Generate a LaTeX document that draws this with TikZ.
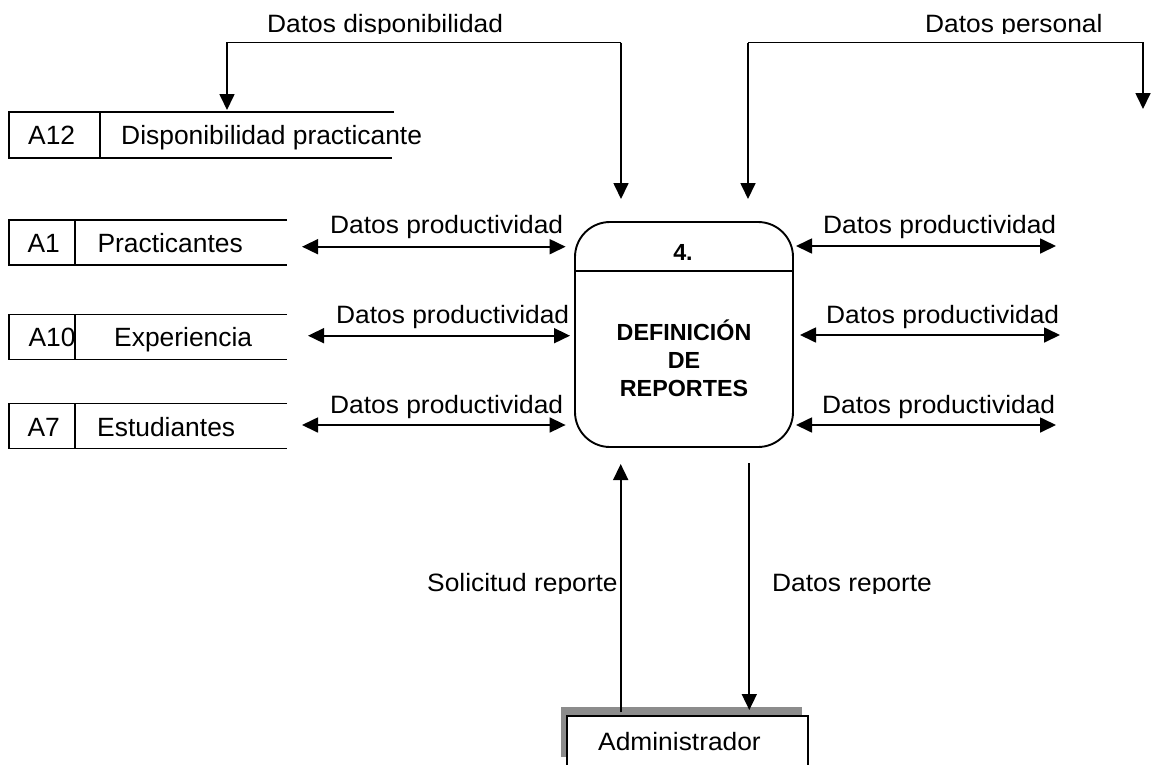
\documentclass[tikz,border=0pt]{standalone}
\usepackage{fontspec}
\setmainfont{Liberation Sans}
\newfontfamily\flowfont{Liberation Sans}[FakeStretch=1.05]
\definecolor{shadowgray}{RGB}{140,140,140}
\usetikzlibrary{arrows.meta}
\begin{document}
\begin{tikzpicture}[x=1pt,y=-1pt,
  line/.style={line width=1.7pt},
  tip/.tip={Triangle[width=15pt,length=16pt]},
  flow/.style={line width=1.7pt,-tip},
  bflow/.style={line width=1.7pt,tip-tip},
  storetxt/.style={font=\fontsize{26.4}{30}\selectfont, inner sep=0pt, anchor=base west},
  flowtxt/.style={font=\flowfont\fontsize{25.1}{28}\selectfont, inner sep=0pt, anchor=base west},
  boldtxt/.style={font=\bfseries\fontsize{23.3}{28.5}\selectfont, inner sep=0pt, anchor=base},
  procbox/.style={draw, line width=1.9pt, rounded corners=35pt, minimum width=218pt, minimum height=225pt, inner sep=0pt},
  entbox/.style={draw, line width=1.7pt, fill=white, minimum width=241pt, minimum height=60pt, inner sep=0pt},
]
\useasboundingbox (0,0) rectangle (1153,764);

% ---------- process ----------
\node[procbox] (P) at (684,334.5) {};
\draw[line] ([yshift=-50pt]P.north west) -- ([yshift=-50pt]P.north east);
\node[boldtxt] (pnum) at (683,260) {4.};
\node[boldtxt] (pt1) at (684,340) {DEFINICIÓN};
\node[boldtxt] (pt2) at (684,368) {DE};
\node[boldtxt] (pt3) at (684,396.5) {REPORTES};

% ---------- data stores ----------
\draw[line] (394,112) -- (9,112) -- (9,158) -- (392,158);
\draw[line] (100,112) -- (100,158);
\node[storetxt] (a12id) at (28,144.3) {A12};
\node[storetxt] (a12) at (121,144.3) {Disponibilidad practicante};

\draw[line] (287,220) -- (9,220) -- (9,265) -- (287,265);
\draw[line] (75,220) -- (75,265);
\node[storetxt] (a1id) at (27.3,252.3) {A1};
\node[storetxt] (a1) at (97.3,252.3) {Practicantes};

\draw[line] (287,314.5) -- (9,314.5) -- (9,359.5) -- (287,359.5);
\draw[line] (75,314.5) -- (75,359.5);
\node[storetxt] (a10id) at (28.3,346.7) {A10};
\node[storetxt] (a10) at (114,346.7) {Experiencia};

\draw[line] (287,403.5) -- (9,403.5) -- (9,448.5) -- (287,448.5);
\draw[line] (75,403.5) -- (75,448.5);
\node[storetxt] (a7id) at (27.3,436.7) {A7};
\node[storetxt] (a7) at (97,436.7) {Estudiantes};

% ---------- external entity ----------
\fill[shadowgray] (561,707) rectangle (802,757);
\node[entbox, anchor=north west] (adm) at (566,715) {};
\node[flowtxt] (admt) at (598,750.7) {Administrador};

% ---------- coordinates ----------
\coordinate (dA) at (621,42.5);
\coordinate (dB) at (227,42.5);
\coordinate (dT) at (227,110);
\coordinate (dP) at (621,199);
\coordinate (pA) at (748,42.5);
\coordinate (pB) at (1143,42.5);
\coordinate (pT) at (1143,109);
\coordinate (pP) at (748,199);

\coordinate (l1a) at (302,246.7);  \coordinate (l1b) at (565.6,246.7);
\coordinate (l2a) at (308,335.7);  \coordinate (l2b) at (570,335.7);
\coordinate (l3a) at (302,425);    \coordinate (l3b) at (565.6,425);
\coordinate (r1a) at (796,246);    \coordinate (r1b) at (1056,246);
\coordinate (r2a) at (800,335);    \coordinate (r2b) at (1060,335);
\coordinate (r3a) at (796,425);    \coordinate (r3b) at (1056,425);

\coordinate (uS) at (620.7,712);   \coordinate (uT) at (620.7,464);
\coordinate (dS) at (749.3,463);   \coordinate (dTT) at (749.3,710);

% ---------- flows ----------
\draw[flow] (dA) -- (dB) -- (dT);
\draw[flow] (dA) -- (dP);
\draw[flow] (pA) -- (pB) -- (pT);
\draw[flow] (pA) -- (pP);

\draw[bflow] (l1a) -- (l1b);
\draw[bflow] (l2a) -- (l2b);
\draw[bflow] (l3a) -- (l3b);
\draw[bflow] (r1a) -- (r1b);
\draw[bflow] (r2a) -- (r2b);
\draw[bflow] (r3a) -- (r3b);

\draw[flow] (uS) -- (uT);
\draw[flow] (dS) -- (dTT);

% ---------- flow labels ----------
\begin{scope}
\clip (0,0) rectangle (1153,33);
\node[flowtxt] (ldisp) at (267,32) {Datos disponibilidad};
\node[flowtxt] (lpers) at (925,32) {Datos personal};
\end{scope}

\node[flowtxt] (ll1) at (330,233) {Datos productividad};
\node[flowtxt] (ll2) at (336,323) {Datos productividad};
\node[flowtxt] (ll3) at (330,413) {Datos productividad};
\node[flowtxt] (lr1) at (823,233) {Datos productividad};
\node[flowtxt] (lr2) at (826,323) {Datos productividad};
\node[flowtxt] (lr3) at (822,413) {Datos productividad};

\begin{scope}
\clip (0,560) rectangle (1153,593);
\node[flowtxt] (lsol) at (427,591.5) {Solicitud reporte};
\node[flowtxt] (lrep) at (772,591.5) {Datos reporte};
\end{scope}
\end{tikzpicture}
\end{document}
